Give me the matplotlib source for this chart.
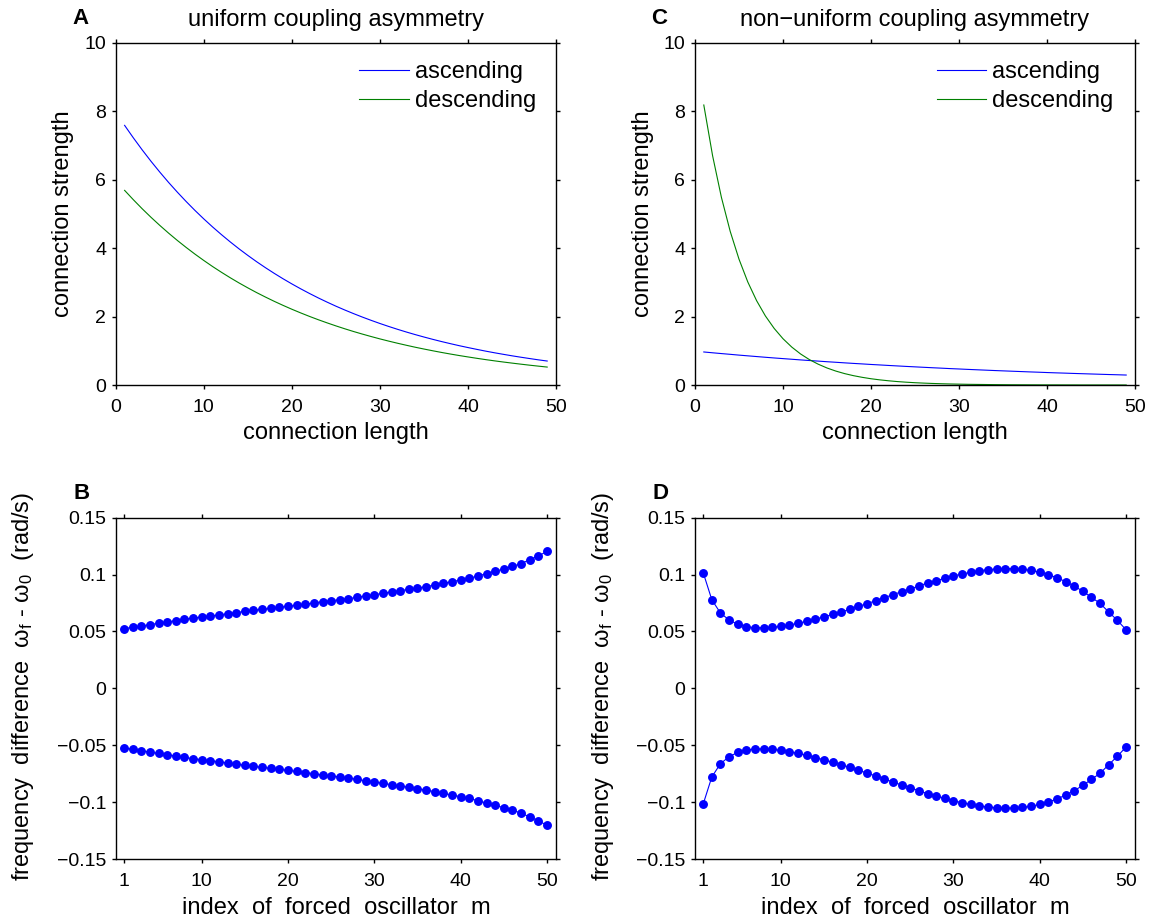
import matplotlib
matplotlib.use("Agg")
import matplotlib.pyplot as plt
from matplotlib.ticker import FuncFormatter

plt.rcParams['font.family'] = ['Liberation Sans', 'DejaVu Sans']
plt.rcParams['mathtext.fontset'] = 'custom'
plt.rcParams['mathtext.rm'] = 'Liberation Sans'
plt.rcParams['mathtext.it'] = 'Liberation Sans'
plt.rcParams['mathtext.bf'] = 'Liberation Sans:bold'

# ---------------- data ----------------
conn_length = list(range(1, 50))

uniform_ascending = [7.585, 7.218, 6.868, 6.535, 6.219, 5.917, 5.631, 5.358, 5.098, 4.851,
                     4.616, 4.393, 4.180, 3.977, 3.785, 3.601, 3.427, 3.261, 3.103, 2.953,
                     2.810, 2.674, 2.544, 2.421, 2.303, 2.192, 2.086, 1.985, 1.889, 1.797,
                     1.710, 1.627, 1.548, 1.473, 1.402, 1.334, 1.269, 1.208, 1.149, 1.094,
                     1.041, 0.990, 0.942, 0.897, 0.853, 0.812, 0.773, 0.735, 0.700]
uniform_descending = [5.686, 5.411, 5.148, 4.899, 4.662, 4.436, 4.221, 4.017, 3.822, 3.637,
                      3.460, 3.293, 3.133, 2.981, 2.837, 2.699, 2.569, 2.444, 2.326, 2.213,
                      2.106, 2.004, 1.907, 1.815, 1.727, 1.643, 1.563, 1.488, 1.416, 1.347,
                      1.282, 1.220, 1.161, 1.104, 1.051, 1.000, 0.951, 0.905, 0.861, 0.820,
                      0.780, 0.742, 0.706, 0.672, 0.640, 0.609, 0.579, 0.551, 0.524]

nonuniform_ascending = [0.965, 0.941, 0.918, 0.896, 0.873, 0.852, 0.831, 0.810, 0.790, 0.771,
                        0.752, 0.733, 0.715, 0.698, 0.680, 0.664, 0.647, 0.631, 0.616, 0.600,
                        0.586, 0.571, 0.557, 0.543, 0.530, 0.517, 0.504, 0.492, 0.479, 0.468,
                        0.456, 0.445, 0.434, 0.423, 0.413, 0.403, 0.393, 0.383, 0.374, 0.364,
                        0.355, 0.347, 0.338, 0.330, 0.322, 0.314, 0.306, 0.299, 0.291]
nonuniform_descending = [8.180, 6.697, 5.483, 4.489, 3.676, 3.009, 2.464, 2.017, 1.652, 1.352,
                         1.107, 0.906, 0.742, 0.608, 0.497, 0.407, 0.333, 0.273, 0.224, 0.183,
                         0.150, 0.123, 0.100, 0.082, 0.067, 0.055, 0.045, 0.037, 0.030, 0.025,
                         0.020, 0.017, 0.014, 0.011, 0.009, 0.007, 0.006, 0.005, 0.004, 0.003,
                         0.003, 0.002, 0.002, 0.001, 0.001, 0.001, 0.001, 0.001, 0.000]

osc_index = list(range(1, 51))

uniform_freq_upper = [0.0525, 0.0536, 0.0548, 0.0560, 0.0572, 0.0583, 0.0595, 0.0607, 0.0618, 0.0627,
                      0.0636, 0.0645, 0.0656, 0.0665, 0.0677, 0.0686, 0.0695, 0.0703, 0.0712, 0.0721,
                      0.0730, 0.0740, 0.0750, 0.0762, 0.0771, 0.0779, 0.0788, 0.0800, 0.0812, 0.0823,
                      0.0835, 0.0847, 0.0859, 0.0870, 0.0882, 0.0894, 0.0908, 0.0923, 0.0938, 0.0952,
                      0.0967, 0.0988, 0.1008, 0.1029, 0.1049, 0.1072, 0.1096, 0.1131, 0.1163, 0.1204]
uniform_freq_lower = [-0.0525, -0.0536, -0.0548, -0.0560, -0.0572, -0.0583, -0.0595, -0.0607, -0.0618, -0.0627,
                      -0.0636, -0.0645, -0.0656, -0.0665, -0.0677, -0.0686, -0.0695, -0.0703, -0.0712, -0.0721,
                      -0.0730, -0.0740, -0.0750, -0.0762, -0.0771, -0.0779, -0.0788, -0.0800, -0.0812, -0.0823,
                      -0.0835, -0.0847, -0.0859, -0.0870, -0.0882, -0.0894, -0.0908, -0.0923, -0.0938, -0.0952,
                      -0.0967, -0.0988, -0.1008, -0.1029, -0.1049, -0.1072, -0.1096, -0.1131, -0.1163, -0.1204]

nonuniform_freq_upper = [0.1017, 0.0779, 0.0662, 0.0601, 0.0563, 0.0542, 0.0533, 0.0533, 0.0536, 0.0545,
                         0.0557, 0.0572, 0.0589, 0.0610, 0.0627, 0.0651, 0.0671, 0.0695, 0.0721, 0.0744,
                         0.0771, 0.0798, 0.0823, 0.0850, 0.0873, 0.0900, 0.0926, 0.0946, 0.0967, 0.0988,
                         0.1005, 0.1020, 0.1034, 0.1043, 0.1049, 0.1052, 0.1052, 0.1046, 0.1037, 0.1020,
                         0.0999, 0.0973, 0.0938, 0.0900, 0.0853, 0.0800, 0.0747, 0.0671, 0.0598, 0.0516]
nonuniform_freq_lower = [-0.1017, -0.0779, -0.0662, -0.0601, -0.0563, -0.0542, -0.0533, -0.0533, -0.0536, -0.0545,
                         -0.0557, -0.0572, -0.0589, -0.0610, -0.0627, -0.0651, -0.0671, -0.0695, -0.0721, -0.0744,
                         -0.0771, -0.0798, -0.0823, -0.0850, -0.0873, -0.0900, -0.0926, -0.0946, -0.0967, -0.0988,
                         -0.1005, -0.1020, -0.1034, -0.1043, -0.1049, -0.1052, -0.1052, -0.1046, -0.1037, -0.1020,
                         -0.0999, -0.0973, -0.0938, -0.0900, -0.0853, -0.0800, -0.0747, -0.0671, -0.0598, -0.0516]

top_xticks = [0, 10, 20, 30, 40, 50]
top_yticks = [0, 2, 4, 6, 8, 10]
bottom_xticks = [1, 10, 20, 30, 40, 50]
bottom_yticks = [-0.15, -0.1, -0.05, 0, 0.05, 0.1, 0.15]

titles = ["uniform coupling asymmetry", "non\u2212uniform coupling asymmetry"]
panel_letters = ["A", "C", "B", "D"]

# ---------------- layout ----------------
W, H = 1153, 923
fig = plt.figure(figsize=(W / 100, H / 100), dpi=100)

def rect(l, t, r, b):
    return [l / W, 1 - b / H, (r - l) / W, (b - t) / H]

def ftext(x, y, s, **kw):
    fig.text(x / W, 1 - y / H, s, **kw)

BLUE = '#0000ff'
GREEN = '#008000'
TICK_FS = 14
LABEL_FS = 17

def style(ax):
    for sp in ax.spines.values():
        sp.set_linewidth(1.0)
    ax.tick_params(direction='out', top=True, right=True, labeltop=False, labelright=False,
                   length=3, width=1.0, labelsize=TICK_FS)
    ax.tick_params(axis='x', pad=7)
    ax.tick_params(axis='y', pad=4)

def fmt(v, pos):
    s = '%g' % round(v, 4)
    return s.replace('-', '\u2212')

axA = fig.add_axes(rect(115.8, 42.7, 556, 385))
axC = fig.add_axes(rect(695, 42.7, 1135, 385))
axB = fig.add_axes(rect(115.8, 517.7, 556, 859))
axD = fig.add_axes(rect(695, 517.7, 1135, 859))

for ax, asc, desc, hx in [(axA, uniform_ascending, uniform_descending, 0.553),
                          (axC, nonuniform_ascending, nonuniform_descending, 0.549)]:
    ax.plot(conn_length, asc, color=BLUE, lw=0.8, label='ascending')
    ax.plot(conn_length, desc, color=GREEN, lw=0.8, label='descending')
    ax.set_xlim(0, 50)
    ax.set_ylim(0, 10)
    ax.set_xticks(top_xticks)
    ax.set_yticks(top_yticks)
    style(ax)
    ax.legend(loc='upper left', bbox_to_anchor=(hx, 0.946), frameon=False,
              fontsize=LABEL_FS, borderpad=0, borderaxespad=0, handlelength=2.1,
              handletextpad=0.25, labelspacing=0.3)

for ax, up, lo in [(axB, uniform_freq_upper, uniform_freq_lower),
                   (axD, nonuniform_freq_upper, nonuniform_freq_lower)]:
    ax.plot(osc_index, up, color=BLUE, lw=0.8, marker='o', ms=5.4, mec=BLUE, mfc=BLUE)
    ax.plot(osc_index, lo, color=BLUE, lw=0.8, marker='o', ms=5.4, mec=BLUE, mfc=BLUE)
    ax.set_xlim(0.05, 51.05)
    ax.set_ylim(-0.15, 0.15)
    ax.set_xticks(bottom_xticks)
    ax.set_yticks(bottom_yticks)
    ax.yaxis.set_major_formatter(FuncFormatter(fmt))
    style(ax)

# ---------------- texts ----------------
ftext(336, 26, titles[0], ha='center', va='baseline', fontsize=LABEL_FS)
ftext(915, 26, titles[1], ha='center', va='baseline', fontsize=LABEL_FS)
ftext(80.5, 24.5, panel_letters[0], ha='center', va='baseline', fontsize=16, fontweight='bold')
ftext(659.5, 24.5, panel_letters[1], ha='center', va='baseline', fontsize=16, fontweight='bold')
ftext(81.5, 499, panel_letters[2], ha='center', va='baseline', fontsize=16, fontweight='bold')
ftext(660.5, 499, panel_letters[3], ha='center', va='baseline', fontsize=16, fontweight='bold')

for cx in (336, 915):
    ftext(cx, 439, 'connection length', ha='center', va='baseline', fontsize=LABEL_FS)
    ftext(cx, 914, 'index  of  forced  oscillator  m', ha='center', va='baseline', fontsize=LABEL_FS)

for bx in (69.5, 649):
    ftext(bx, 214, 'connection strength', ha='center', va='baseline', rotation=90,
          rotation_mode='anchor', fontsize=LABEL_FS)
for bx in (29.5, 609):
    ftext(bx, 686, r'frequency  difference  ω$_{\rm f}$ - ω$_{\rm 0}$  (rad/s)', ha='center',
          va='baseline', rotation=90, rotation_mode='anchor', fontsize=LABEL_FS)

fig.savefig('out.png', dpi=100)
